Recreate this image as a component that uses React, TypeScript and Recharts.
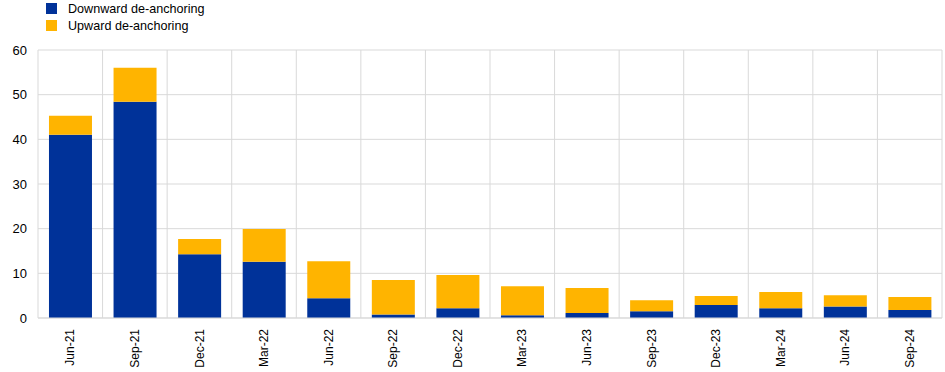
import * as React from 'react'
import { BarChart, Bar, XAxis, YAxis, CartesianGrid } from 'recharts'

const categories = ['Jun-21', 'Sep-21', 'Dec-21', 'Mar-22', 'Jun-22', 'Sep-22', 'Dec-22', 'Mar-23', 'Jun-23', 'Sep-23', 'Dec-23', 'Mar-24', 'Jun-24', 'Sep-24']
const downward = [41.0, 48.4, 14.3, 12.6, 4.4, 0.8, 2.2, 0.6, 1.1, 1.5, 2.9, 2.2, 2.6, 1.8]
const upward = [4.3, 7.6, 3.4, 7.3, 8.3, 7.7, 7.4, 6.5, 5.6, 2.5, 2.0, 3.6, 2.5, 2.9]
const yTicks = [0, 10, 20, 30, 40, 50, 60]

const data = categories.map((name, i) => ({ name, down: downward[i], up: upward[i] }))

const BLUE = '#003299'
const YELLOW = '#FFB400'
const GRID = '#d9d9d9'
const FONT = '"Liberation Sans", Arial, sans-serif'

function XTick({ x, y, payload }: any) {
  return (
    <text
      transform={`translate(${x}, ${y}) rotate(-90)`}
      textAnchor="end"
      dy="0.35em"
      fontSize={12}
      fontFamily={FONT}
      fill="#000"
    >
      {payload.value}
    </text>
  )
}

function LegendBox() {
  const items = [
    { label: 'Downward de-anchoring', color: BLUE },
    { label: 'Upward de-anchoring', color: YELLOW },
  ]
  return (
    <div style={{ position: 'absolute', left: 46, top: 0, fontFamily: FONT, fontSize: 12.6, color: '#000' }}>
      {items.map((it) => (
        <div key={it.label} style={{ display: 'flex', alignItems: 'center', height: 17 }}>
          <span style={{ width: 11, height: 11, background: it.color, display: 'inline-block', marginRight: 11 }} />
          <span>{it.label}</span>
        </div>
      ))}
    </div>
  )
}

export default function App() {
  const n = categories.length
  return (
    <div style={{ position: 'absolute', left: 0, top: 0, width: 945, height: 372, background: '#fff' }}>
      <BarChart
        width={945}
        height={372}
        data={data}
        margin={{ top: 50, right: 3, left: 0, bottom: 0 }}
        barCategoryGap="17%"
      >
        <CartesianGrid
          stroke={GRID}
          verticalCoordinatesGenerator={({ offset }: any) =>
            Array.from({ length: n + 1 }, (_, i) => offset.left + (i * offset.width) / n)
          }
        />
        <XAxis
          dataKey="name"
          interval={0}
          tickLine={false}
          axisLine={{ stroke: GRID }}
          height={54}
          tickSize={0}
          tickMargin={11}
          tick={<XTick />}
        />
        <YAxis
          domain={[0, 60]}
          ticks={yTicks}
          width={38}
          axisLine={false}
          tickLine={false}
          tickSize={0}
          tickMargin={11}
          tick={{ fontSize: 13, fontFamily: FONT, fill: '#000' }}
        />
        <Bar dataKey="down" stackId="a" fill={BLUE} isAnimationActive={false} />
        <Bar dataKey="up" stackId="a" fill={YELLOW} isAnimationActive={false} />
      </BarChart>
      <LegendBox />
    </div>
  )
}
